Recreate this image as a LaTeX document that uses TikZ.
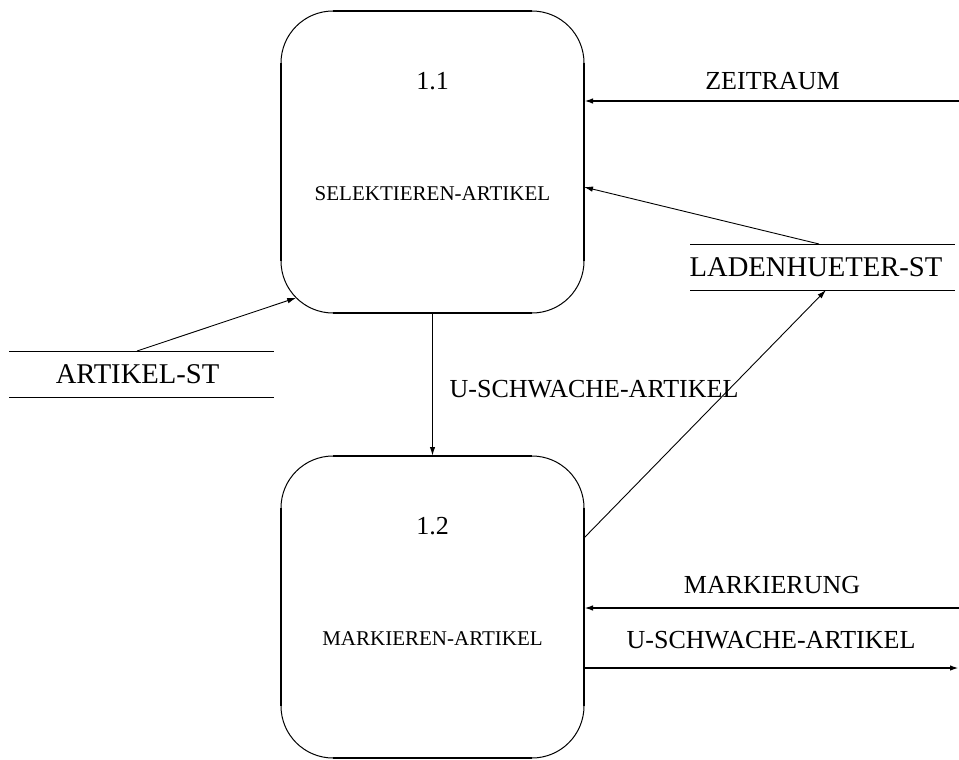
\documentclass[tikz,border=0pt]{standalone}
\usepackage{fontspec}
\setmainfont{Liberation Serif}
\usetikzlibrary{arrows.meta}
\begin{document}
\begin{tikzpicture}[x=1pt,y=-1pt,
  proc/.style={draw, line width=1pt, rounded corners=52pt, minimum width=303pt, minimum height=302pt, inner sep=0pt, outer sep=0pt},
  store/.style={minimum width=265pt, minimum height=46pt, inner sep=0pt, outer sep=0pt, font=\fontsize{28.6}{32}\selectfont},
  big/.style={font=\fontsize{26}{30}\selectfont, inner sep=0pt},
  small/.style={font=\fontsize{21}{25}\selectfont, inner sep=0pt},
  edge/.style={line width=1pt, line cap=butt},
  thickedge/.style={line width=2.2pt},
  flow/.style={-{Latex[length=9pt,width=5.5pt]}, line width=0.9pt},
  bigflow/.style={-{Latex[length=9pt,width=5.5pt]}, line width=2pt}
]
\useasboundingbox (0,0) rectangle (959,760);

% processes
\node[proc] (p1) at (432.5,162) {};
\node[proc] (p2) at (432.5,607) {};
\foreach \p in {p1,p2}{
  \draw[thickedge] ([xshift=52pt]\p.north west) -- ([xshift=-52pt]\p.north east);
  \draw[thickedge] ([xshift=52pt]\p.south west) -- ([xshift=-52pt]\p.south east);
  \draw[thickedge] ([yshift=-52pt]\p.north west) -- ([yshift=52pt]\p.south west);
  \draw[thickedge] ([yshift=-52pt]\p.north east) -- ([yshift=52pt]\p.south east);
}
\node[big] (n11) at (432.5,81) {1.1};
\node[small] (t11) at (432.5,194) {SELEKTIEREN-ARTIKEL};
\node[big] (n12) at (432.5,526) {1.2};
\node[small] (t12) at (432.5,639) {MARKIEREN-ARTIKEL};

% data stores
\node[store] (ds1) at (141.5,374) {\hspace*{-8pt}ARTIKEL-ST};
\draw[edge] (ds1.north west) -- (ds1.north east);
\draw[edge] (ds1.south west) -- (ds1.south east);
\node[store] (ds2) at (822.5,267) {\hspace*{-13pt}LADENHUETER-ST};
\draw[edge] (ds2.north west) -- (ds2.north east);
\draw[edge] (ds2.south west) -- (ds2.south east);

% external flows
\coordinate (zr) at (959,101);
\draw[bigflow] (zr) -- (zr -| p1.east);
\node[big] (lzr) at (772.5,81) {ZEITRAUM};

\coordinate (mk) at (959,608);
\draw[bigflow] (mk) -- (mk -| p2.east);
\node[big] (lmk) at (772,585) {MARKIERUNG};

\coordinate (uo) at (959,668);
\draw[bigflow] (uo -| p2.east) -- (uo);
\node[big] (luo) at (771,640) {U-SCHWACHE-ARTIKEL};

% internal flows
\draw[flow] ([xshift=-4.5pt]ds1.north) -- ([xshift=15.2pt,yshift=15.2pt]p1.south west);
\draw[flow] ([xshift=-3.5pt]ds2.north) -- ([yshift=-25pt]p1.east);
\draw[flow] ([yshift=69pt]p2.east) -- ([xshift=3.5pt]ds2.south);
\draw[-{Latex[length=9pt,width=5.5pt]}, line width=1.3pt] (p1.south) -- (p2.north);
\node[big] (lus) at (594,389) {U-SCHWACHE-ARTIKEL};
\end{tikzpicture}
\end{document}
